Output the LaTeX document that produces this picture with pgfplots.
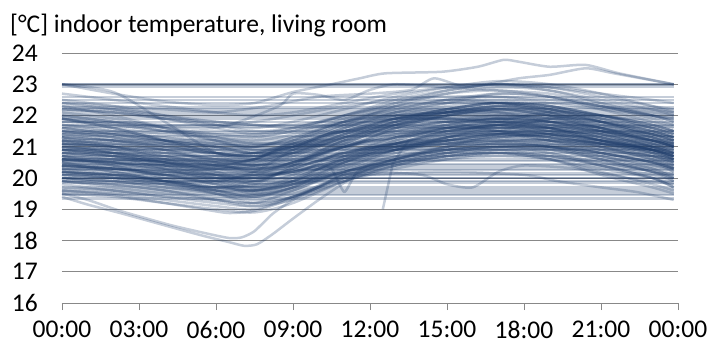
\documentclass[border=0pt]{standalone}
\usepackage{fontspec}
\setmainfont{Carlito}
\usepackage{pgfplots}
\usepackage{pgfplotstable}
\pgfplotsset{compat=1.18}
\definecolor{ln}{HTML}{1F3D6B}
\definecolor{gr}{HTML}{888888}

\pgfplotstableread{
id  h0    h2    h4    h6    h75   h9    h11   h13   h15   h17   h19   h21   h23   h24
t   0     2     4     6     7.5   9     11    13    15    17    19    21    23    23.83
c1  21.0  20.8  20.5  20.2  20.1  20.4  21.0  21.5  21.8  22.0  21.9  21.6  21.2  21.0
c2  20.5  20.3  20.1  19.9  19.7  20.0  20.6  21.0  21.2  21.3  21.2  21.0  20.7  20.5
c3  21.5  21.3  21.0  20.8  20.7  21.0  21.6  22.0  22.3  22.4  22.2  21.9  21.6  21.4
c4  20.8  20.6  20.4  20.1  19.9  20.3  20.8  21.1  21.4  21.6  21.5  21.2  20.9  20.7
c5  22.0  21.8  21.5  21.2  21.0  21.3  21.8  22.2  22.5  22.6  22.5  22.3  21.9  21.7
c6  20.2  20.0  19.8  19.6  19.5  19.8  20.3  20.7  20.9  21.0  20.9  20.6  20.3  20.1
c7  21.2  21.1  20.9  20.6  20.4  20.6  21.2  21.7  22.0  22.2  22.1  21.8  21.4  21.2
c8  19.8  19.6  19.4  19.3  19.2  19.6  20.2  20.6  20.8  20.9  20.7  20.4  20.1  19.9
c9  23.0  22.75 21.8  20.8  20.5  20.7  21.3  21.7  22.0  22.1  22.0  21.8  21.5  21.3
c10 20.9  20.7  20.3  19.9  19.6  19.8  20.5  21.0  21.3  21.5  21.4  21.0  20.6  20.4
c11 21.7  21.5  21.2  21.0  20.8  21.0  21.5  21.9  22.1  22.3  22.1  21.8  21.4  21.2
c12 20.4  20.3  20.1  19.8  19.5  19.7  20.4  20.9  21.2  21.4  21.3  21.0  20.6  20.3
c13 22.3  22.0  21.6  21.2  20.9  21.0  21.7  22.3  22.7  22.9  22.8  22.4  22.0  21.8
c14 20.6  20.5  20.3  20.1  20.0  20.2  20.6  20.9  21.1  21.2  21.1  20.9  20.7  20.6
c15 21.3  21.0  20.6  20.2  19.9  20.1  20.9  21.6  22.0  22.2  22.0  21.6  21.2  21.0
c16 19.6  19.5  19.3  19.1  19.0  19.4  20.0  20.5  20.8  21.0  20.8  20.4  20.0  19.7
c17 21.8  21.7  21.5  21.3  21.2  21.4  21.9  22.4  22.7  22.8  22.6  22.2  21.8  21.6
c18 20.7  20.4  20.0  19.6  19.4  19.7  20.5  21.1  21.5  21.7  21.6  21.3  20.9  20.6
c19 21.1  21.0  20.8  20.6  20.5  20.8  21.3  21.6  21.8  21.9  21.8  21.5  21.2  21.0
c20 20.0  19.8  19.6  19.3  19.1  19.4  20.1  20.6  20.9  21.1  21.0  20.7  20.3  20.0
c21 22.1  21.9  21.6  21.3  21.1  21.2  21.7  22.1  22.4  22.7  22.6  22.3  22.0  21.9
c22 20.3  20.1  19.9  19.7  19.6  19.9  20.4  20.8  21.0  21.1  21.0  20.8  20.5  20.3
c23 21.4  21.2  20.9  20.5  20.2  20.4  21.1  21.7  22.1  22.3  22.1  21.7  21.3  21.1
c24 20.1  20.0  19.8  19.5  19.3  19.5  20.0  20.4  20.6  20.7  20.6  20.3  20.0  19.8
c25 21.6  21.4  21.1  20.7  20.4  20.7  21.3  21.8  22.1  22.2  22.0  21.7  21.4  21.3
c26 20.9  20.8  20.6  20.4  20.3  20.5  21.0  21.4  21.7  21.9  21.8  21.4  21.0  20.8
c27 22.5  22.3  22.0  21.7  21.5  21.6  22.0  22.5  22.8  23.0  22.9  22.6  22.3  22.2
c28 20.5  20.2  19.9  19.6  19.4  19.6  20.3  20.9  21.3  21.4  21.2  20.8  20.5  20.3
c29 19.5  19.4  19.2  19.0  18.9  19.2  19.9  20.4  20.7  20.8  20.6  20.2  19.8  19.6
c30 21.9  21.6  21.2  20.8  20.6  20.8  21.4  21.9  22.2  22.4  22.3  22.0  21.7  21.5
c31 20.8  20.7  20.5  20.3  20.1  20.2  20.7  21.2  21.6  21.8  21.7  21.4  21.0  20.8
c32 21.2  20.9  20.5  20.1  19.8  20.0  20.6  21.1  21.4  21.5  21.4  21.2  21.0  20.9
c33 20.0  19.9  19.7  19.5  19.4  19.7  20.2  20.5  20.7  20.8  20.7  20.5  20.2  20.0
c34 21.5  21.4  21.2  21.0  20.8  21.0  21.5  21.9  22.2  22.4  22.3  22.0  21.7  21.5
c35 20.6  20.4  20.1  19.8  19.6  19.9  20.6  21.2  21.6  21.8  21.6  21.2  20.8  20.5
c36 22.2  22.1  21.9  21.7  21.6  21.8  22.2  22.6  22.9  23.1  23.0  22.7  22.3  22.1
c37 20.4  20.2  19.9  19.5  19.2  19.4  20.0  20.6  21.0  21.2  21.0  20.6  20.2  19.9
c38 21.0  20.9  20.7  20.4  20.2  20.5  21.2  21.8  22.2  22.4  22.2  21.8  21.3  21.0
c39 19.9  19.7  19.5  19.3  19.2  19.4  19.9  20.3  20.6  20.8  20.7  20.4  20.0  19.7
c40 21.3  21.2  21.0  20.8  20.7  20.9  21.4  21.7  21.9  22.0  21.9  21.7  21.4  21.2
c41 20.7  20.5  20.2  20.0  19.8  19.9  20.5  21.0  21.3  21.5  21.3  20.9  20.6  20.5
c42 22.4  22.2  21.9  21.6  21.4  21.5  22.0  22.4  22.8  23.0  22.8  22.5  22.2  22.0
c43 19.7  19.6  19.4  19.2  19.1  19.3  19.9  20.4  20.7  20.8  20.6  20.1  19.7  19.5
c44 21.1  20.8  20.4  20.0  19.7  19.9  20.7  21.3  21.7  21.9  21.7  21.3  20.9  20.7
c45 20.2  20.1  19.9  19.7  19.6  19.8  20.2  20.6  20.9  21.1  21.0  20.7  20.4  20.2
c46 20.2  20.1  20.0  19.9  20.2  20.9  21.6  22.0  22.1  22.0  21.8  21.5  21.1  20.9
c47 21.9  21.6  21.2  20.8  20.6  20.6  20.7  20.9  21.1  21.3  21.4  21.3  21.1  21.0
c48 20.6  20.6  20.5  20.5  20.6  21.0  21.6  22.1  22.4  22.5  22.3  21.9  21.5  21.3
c49 21.4  21.4  21.3  21.2  21.1  21.1  21.0  21.0  21.2  21.5  21.9  22.0  21.7  21.5
c50 20.0  19.9  19.8  19.7  19.8  20.4  21.2  21.5  21.6  21.6  21.4  21.1  20.8  20.6
c51 22.2  22.1  21.9  21.8  21.7  21.6  21.7  21.9  22.2  22.4  22.3  22.0  21.6  21.4
c52 20.9  20.8  20.7  20.7  20.8  21.1  21.3  21.4  21.5  21.7  21.8  21.6  21.2  21.0
c53 20.4  20.3  20.2  20.3  20.5  20.9  21.5  21.9  21.8  21.5  21.2  20.9  20.7  20.6
c54 21.6  21.5  21.3  21.1  21.0  21.2  21.8  22.3  22.5  22.4  22.1  21.6  21.1  20.8
c55 20.7  20.6  20.6  20.6  20.7  20.8  20.9  21.1  21.4  21.8  22.1  22.0  21.6  21.4
c56 21.2  21.0  20.7  20.5  20.6  21.2  21.8  22.0  21.9  21.7  21.4  21.1  20.8  20.6
c57 20.3  20.3  20.2  20.1  20.0  20.0  20.2  20.6  21.0  21.4  21.6  21.5  21.2  21.0
c58 21.8  21.8  21.7  21.7  21.8  22.0  22.3  22.5  22.6  22.6  22.4  22.2  22.0  21.9
c59 20.5  20.4  20.3  20.2  20.2  20.5  21.0  21.6  22.0  22.2  22.0  21.5  21.0  20.7
c60 21.1  21.0  20.9  20.8  20.7  20.7  20.8  21.0  21.1  21.2  21.2  21.1  21.0  21.0
c61 19.9  19.8  19.8  19.7  19.9  20.3  20.8  21.1  21.2  21.3  21.2  21.0  20.7  20.5
c62 21.5  21.3  21.1  20.9  20.8  20.9  21.2  21.5  21.7  21.9  22.0  21.8  21.5  21.3
c63 20.8  20.7  20.5  20.4  20.6  21.1  21.7  21.9  21.9  21.8  21.6  21.3  21.0  20.8
c64 22.0  21.8  21.6  21.4  21.3  21.3  21.5  21.8  22.1  22.3  22.4  22.3  22.1  22.0
c65 20.4  20.3  20.1  20.0  20.1  20.5  21.0  21.3  21.4  21.4  21.3  21.1  20.8  20.6
c66 21.3  21.2  21.1  21.0  21.0  21.3  21.8  22.1  22.2  22.1  21.8  21.5  21.2  21.1
c67 20.6  20.5  20.4  20.3  20.3  20.4  20.7  21.1  21.5  21.7  21.7  21.4  21.0  20.8
c68 21.0  20.8  20.6  20.4  20.3  20.5  21.1  21.7  22.0  21.9  21.6  21.2  20.9  20.7
c69 20.1  20.0  19.9  19.9  20.0  20.2  20.6  20.9  21.1  21.3  21.4  21.2  20.9  20.7
c70 21.7  21.6  21.4  21.3  21.3  21.5  21.8  22.0  22.1  22.2  22.2  22.0  21.8  21.7
c71 20.9  20.7  20.5  20.3  20.2  20.2  20.4  20.8  21.3  21.7  21.9  21.8  21.5  21.3
c72 20.5  20.5  20.4  20.4  20.6  21.1  21.5  21.6  21.6  21.5  21.3  21.1  20.9  20.8
c73 21.4  21.3  21.2  21.1  21.0  21.0  21.1  21.3  21.6  21.8  21.8  21.6  21.3  21.1
c74 20.2  20.1  20.0  19.9  19.9  20.1  20.5  20.9  21.3  21.6  21.6  21.3  20.9  20.6
c75 22.3  22.2  22.0  21.8  21.7  21.7  21.9  22.2  22.5  22.7  22.6  22.3  22.0  21.8
c76 20.8  20.7  20.6  20.5  20.4  20.6  21.0  21.4  21.6  21.6  21.5  21.4  21.2  21.1
c77 21.1  21.0  20.8  20.6  20.6  20.8  21.3  21.8  22.1  22.3  22.2  21.8  21.4  21.2
c78 20.0  19.9  19.7  19.6  19.6  19.8  20.2  20.6  20.9  21.0  21.0  20.8  20.5  20.3
c79 21.6  21.4  21.2  21.0  20.9  21.0  21.3  21.6  21.8  21.9  21.8  21.6  21.4  21.3
c80 20.6  20.5  20.4  20.3  20.4  20.8  21.4  21.8  21.9  21.8  21.5  21.2  20.9  20.7
c81 21.3  21.2  21.0  20.9  20.8  20.8  21.0  21.3  21.5  21.6  21.6  21.5  21.3  21.2
c82 20.3  20.2  20.1  20.0  20.0  20.3  20.8  21.3  21.6  21.7  21.5  21.1  20.7  20.4
c83 21.9  21.7  21.5  21.4  21.4  21.6  22.0  22.3  22.4  22.4  22.2  21.9  21.6  21.5
c84 20.7  20.6  20.5  20.4  20.3  20.4  20.7  21.0  21.2  21.4  21.5  21.4  21.1  20.9
c85 21.0  20.9  20.8  20.7  20.8  21.1  21.5  21.7  21.8  21.8  21.7  21.5  21.2  21.0
c86 22.7  22.5  22.3  22.1  22.0  22.1  22.4  22.7  22.9  23.0  22.9  22.7  22.5  22.4
c87 20.4  20.3  20.2  20.1  20.1  20.2  20.5  20.9  21.2  21.4  21.4  21.2  20.9  20.7
c88 21.2  21.1  20.9  20.8  20.7  20.9  21.4  21.9  22.1  22.1  21.9  21.6  21.3  21.1
c89 20.9  20.8  20.7  20.5  20.4  20.5  20.8  21.1  21.3  21.4  21.3  21.1  20.9  20.8
c90 20.1  20.0  19.9  19.8  19.7  19.8  20.1  20.5  20.8  21.0  21.0  20.8  20.5  20.2
}\rawcurves
\pgfplotstabletranspose[colnames from=id]\curves\rawcurves

\begin{document}
\begin{tikzpicture}
\begin{axis}[
  scale only axis, width=616bp, height=250bp,
  xmin=0, xmax=24, ymin=16, ymax=24,
  xtick={0,3,...,24},
  xticklabels={00:00,03:00,06:00,09:00,12:00,15:00,18:00,21:00,00:00},
  ytick={16,17,...,24},
  axis x line*=bottom, axis y line*=left,
  x axis line style={draw=gr, line width=0.9bp, -},
  y axis line style={draw=none, -},
  ymajorgrids, grid style={draw=gr, line width=0.9bp},
  tick align=outside, major tick length=7bp,
  x tick style={draw=gr, line width=0.9bp},
  y tick style={draw=none},
  tick label style={font=\fontsize{25.5bp}{30bp}\selectfont, text=black},
  /pgf/number format/assume math mode=true,
  yticklabel style={anchor=east, inner sep=0pt, xshift=-17bp},
  xticklabel style={anchor=north, inner sep=0pt, yshift=-11bp},
  clip=false,
  crv/.style={ln, opacity=0.26, line width=2.5bp, line join=round, no markers},
]
% flat lines
\pgfplotsinvokeforeach{23.0,23.0,22.92,22.6,22.5,22.4,22.25,22.2,22.1,22.0,21.9,21.8,21.7,21.65,21.5,21.45,21.35,21.2,21.1,21.05,20.95,20.9,20.8,20.7,20.6,20.55,20.45,20.4,20.3,20.25,20.15,20.1,20.0,20.0,19.9,19.85,19.7,19.6,19.5,19.45,19.35}{
  \addplot[crv] coordinates {(0,#1) (23.83,#1)};
}
% daily curves
\pgfplotsinvokeforeach{1,...,90}{
  \addplot[crv, smooth, tension=0.5] table[x=t, y=c#1] {\curves};
}
% special curves
\addplot[crv, smooth, tension=0.4] coordinates {(0,19.4) (1,19.15) (2.26,18.88) (4.2,18.44) (5.5,18.15) (6.5,17.95) (7.1,17.83) (7.6,17.88) (8.2,18.2) (9,18.7) (10,19.3) (11,19.85) (11.6,20.15) (12.5,20.4) (15,20.7) (17,20.9) (19,20.9) (21,20.6) (23,20.2) (23.83,20.0)};
\addplot[crv, smooth, tension=0.4] coordinates {(0,19.5) (1,19.3) (2.26,18.95) (4.2,18.5) (5.5,18.25) (6.5,18.08) (7,18.1) (7.5,18.3) (8.2,18.85) (9,19.3) (10.3,19.84) (11.2,20.26) (12.5,20.6) (15,20.9) (18,21.0) (21,20.7) (23.83,20.3)};
\addplot[crv, smooth, tension=0.4] coordinates {(0,19.6) (2,19.45) (4,19.2) (5.5,19.0) (6.5,18.88) (7.5,18.95) (8.5,19.2) (10,19.7) (11,20.1) (13,20.5) (15,20.8) (17,20.9) (19,20.8) (21,20.5) (23.83,20.1)};
\addplot[crv, smooth, tension=0.4] coordinates {(0,23.0) (2,22.7) (4,22.45) (6,22.33) (7.5,22.4) (9,22.75) (10.5,23.0) (11.6,23.19) (12.6,23.35) (14.8,23.4) (16.2,23.56) (17.2,23.78) (17.8,23.72) (19,23.56) (20.4,23.62) (21.7,23.35) (23.83,23.0)};
\addplot[crv, smooth, tension=0.4] coordinates {(0,22.4) (2,22.3) (4,22.2) (6,22.1) (8,22.3) (10,22.6) (12,22.7) (13.6,22.82) (14.5,23.19) (15.8,22.92) (17.8,23.19) (19,23.3) (20.4,23.51) (21.5,23.35) (23.83,23.0)};
\addplot[crv, smooth, tension=0.4] coordinates {(0,21.9) (3,21.7) (6,21.6) (8.4,22.28) (9,22.7) (10,22.66) (11,22.5) (12,22.82) (13,23.0) (15,22.9) (17,22.8) (19,22.7) (21,22.4) (23.83,22.1)};
\addplot[crv] coordinates {(12.5,19.0) (12.9,20.5) (13.5,21.2) (15,21.5) (17,21.7) (19,21.6) (21,21.2) (23.83,20.7)};
\addplot[crv, smooth, tension=0.3] coordinates {(0,20.6) (3,20.4) (6,20.0) (8,20.1) (10,20.4) (10.5,20.3) (11,19.55) (11.5,20.2) (12.5,20.6) (15,21.0) (18,21.2) (21,20.8) (23.83,20.4)};
\addplot[crv, smooth, tension=0.4] coordinates {(0,20.2) (3,20.0) (6,19.7) (8,19.8) (10,20.0) (12,20.2) (14,20.1) (15,19.8) (16,19.7) (17,20.2) (18,20.4) (20,20.3) (22,20.0) (23.83,19.8)};
\addplot[crv, smooth, tension=0.4] coordinates {(0,19.9) (3,19.7) (6,19.4) (8,19.5) (10,19.9) (12,20.1) (15,20.2) (18,20.1) (19.3,19.9) (21,19.7) (22.4,19.55) (23.83,19.3)};
\end{axis}
\node[anchor=base west, inner sep=0pt, font=\fontsize{25.5bp}{30bp}\selectfont] at (-52bp,270bp) {[°C] indoor temperature, living room};
\pgfresetboundingbox
\path[use as bounding box] (-62bp,-42bp) rectangle (645bp,303bp);
\end{tikzpicture}
\end{document}
